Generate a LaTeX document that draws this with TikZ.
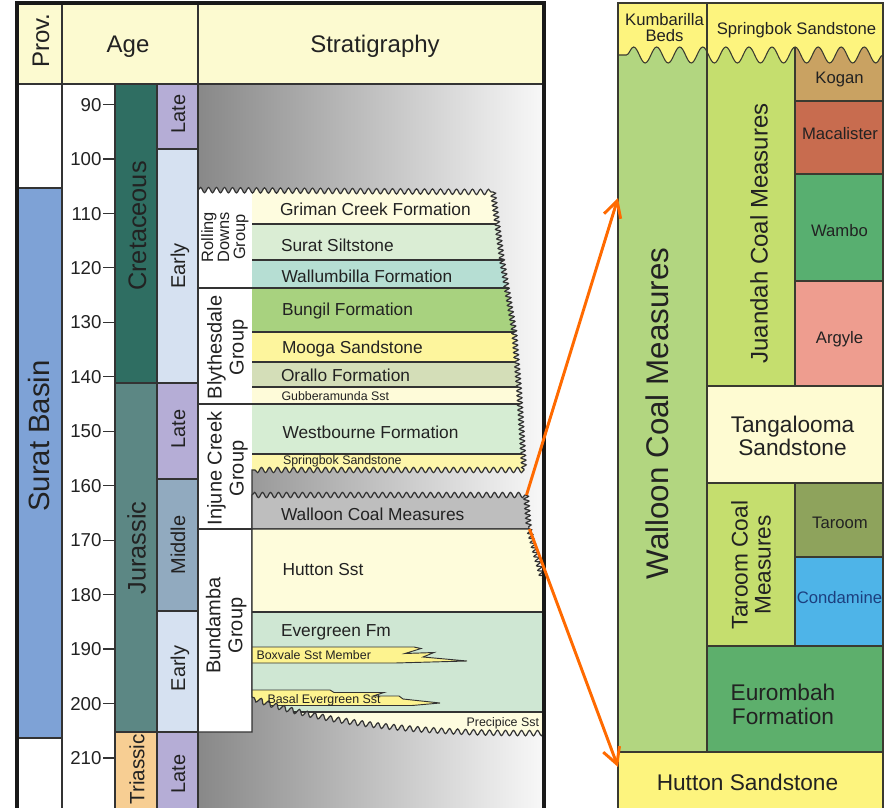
\documentclass[tikz,border=0pt]{standalone}
\usepackage{fontspec}
\setmainfont{Liberation Sans}
\usetikzlibrary{decorations.pathmorphing,arrows.meta}
\definecolor{hdr}{HTML}{FCFAD0}
\definecolor{prov}{HTML}{7EA2D6}
\definecolor{cret}{HTML}{2F6E62}
\definecolor{jura}{HTML}{5C8784}
\definecolor{tria}{HTML}{F7CE93}
\definecolor{late}{HTML}{B5ADD6}
\definecolor{early}{HTML}{D6E1F1}
\definecolor{midd}{HTML}{91AABF}
\definecolor{shl}{HTML}{888888}
\definecolor{shr}{HTML}{F8F8F8}
\definecolor{cGriman}{HTML}{FEFCDF}
\definecolor{cSurat}{HTML}{DAEDD4}
\definecolor{cWallum}{HTML}{B6DED3}
\definecolor{cBungil}{HTML}{A8D27F}
\definecolor{cMooga}{HTML}{FDF59D}
\definecolor{cOrallo}{HTML}{D4DEB8}
\definecolor{cGubb}{HTML}{FEFBD9}
\definecolor{cWestb}{HTML}{D6EDD3}
\definecolor{cSpring}{HTML}{FDF6AA}
\definecolor{cWalloon}{HTML}{BEBEBE}
\definecolor{cHutton}{HTML}{FEFCDB}
\definecolor{cEver}{HTML}{CFE7D3}
\definecolor{cBox}{HTML}{FDF38F}
\definecolor{cPrec}{HTML}{FEFCDF}
\definecolor{rYel}{HTML}{FDF47E}
\definecolor{rWall}{HTML}{B2D680}
\definecolor{rJuan}{HTML}{C5DE6E}
\definecolor{rKogan}{HTML}{C9A262}
\definecolor{rMac}{HTML}{C86C4F}
\definecolor{rWambo}{HTML}{58AF70}
\definecolor{rArg}{HTML}{EE9D8F}
\definecolor{rTang}{HTML}{FEFBD2}
\definecolor{rTaroom}{HTML}{8EA35C}
\definecolor{rCond}{HTML}{4EB4E8}
\definecolor{rEur}{HTML}{5DAF6C}
\definecolor{txt}{HTML}{222222}
\definecolor{ln}{HTML}{333333}
\definecolor{lnr}{HTML}{3A3A30}
\definecolor{arr}{HTML}{FF6A00}
\definecolor{condtxt}{HTML}{1C3F7F}
\newcommand\upperblock{(198,190) decorate[wvd]{-- (493,192)} decorate[wrd]{-- (502,260) -- (514,330) -- (519,390) -- (524,470)} decorate[wvd]{-- (252,470)} -- (252,732) -- (198,732) -- cycle}
\newcommand\walloonblock{(252,495) decorate[wvd]{-- (526,495)} decorate[wrd]{-- (529,529)} -- (252,529) -- cycle}
\newcommand\lowerblock{(252,529) -- (529,529) decorate[wrd]{-- (536,555) -- (543,580)} -- (544,580) -- (544,733) decorate[wvd]{.. controls (430,734) and (320,724) .. (252,697)} -- cycle}
\newcommand\rhead{(618,3) -- (883,3) -- (883,55) decorate[bigwave]{-- (618,55)} -- cycle}
\begin{document}
\begin{tikzpicture}[x=0.75pt,y=-0.75pt,
 lbl/.style={text=txt,inner sep=0pt,outer sep=0pt},
 fH/.style={font=\fontsize{18}{20}\selectfont,text height=12.9pt,text depth=0pt},
 fNum/.style={font=\fontsize{14}{16}\selectfont,text height=10pt,text depth=0pt},
 fPer/.style={font=\fontsize{19}{21}\selectfont,text height=13.6pt,text depth=0pt},
 fTri/.style={font=\fontsize{15.5}{17}\selectfont,text height=11.1pt,text depth=0pt},
 fProv/.style={font=\fontsize{22}{24}\selectfont,text height=15.8pt,text depth=0pt},
 fEp/.style={font=\fontsize{15}{17}\selectfont,text height=10.7pt,text depth=0pt},
 fGrp/.style={font=\fontsize{15}{16.5}\selectfont,align=center},
 fRoll/.style={font=\fontsize{12.3}{12}\selectfont,align=center},
 fFm/.style={font=\fontsize{13}{15}\selectfont,text height=9.3pt,text depth=0pt},
 fSm/.style={font=\fontsize{9.3}{11}\selectfont,text height=6.7pt,text depth=0pt},
 fR/.style={font=\fontsize{12.5}{14}\selectfont,text height=8.95pt,text depth=0pt},
 fRtwo/.style={font=\fontsize{12.5}{12.4}\selectfont,align=center},
 fRM/.style={font=\fontsize{17}{17.3}\selectfont,align=center},
 fRE/.style={font=\fontsize{17}{18}\selectfont,align=center},
 fRJ/.style={font=\fontsize{18}{20}\selectfont,text height=12.9pt,text depth=0pt},
 fRB/.style={font=\fontsize{23.5}{26}\selectfont,text height=16.8pt,text depth=0pt},
 lnA/.style={draw=ln,line width=0.9pt},
 lnR/.style={draw=lnr,line width=0.8pt},
 frameline/.style={draw=black!90,line width=2.4pt},
 wvd/.style={decoration={snake,segment length=6pt,amplitude=2pt}},
 wrd/.style={decoration={snake,segment length=3.6pt,amplitude=1.8pt}},
 bigwave/.style={decoration={snake,segment length=17.3pt,amplitude=6pt}},
 arrline/.style={draw=arr,line width=2.2pt,-{Straight Barb[length=12pt,width=13pt]}}
]
\useasboundingbox (0,0) rectangle (889,807);
\clip (0,0) rectangle (889,807);
% ---------------- left panel ----------------
\fill[hdr] (17,3) rectangle (544,84);
\fill[white] (17,84) rectangle (115,810);
\fill[prov] (17,188) rectangle (62,738);
\draw[lnA] (17,188) -- (62,188) (17,738) -- (62,738);
\fill[cret] (115,84) rectangle (157,383);
\fill[jura] (115,383) rectangle (157,732);
\fill[tria] (115,732) rectangle (157,810);
\fill[late] (157,84) rectangle (198,149);
\fill[early] (157,149) rectangle (198,383);
\fill[late] (157,383) rectangle (198,479);
\fill[midd] (157,479) rectangle (198,611);
\fill[early] (157,611) rectangle (198,732);
\fill[late] (157,732) rectangle (198,810);
\draw[lnA] (115,383) -- (198,383) (115,732) -- (198,732) (157,149) -- (198,149)
  (157,479) -- (198,479) (157,611) -- (198,611);
\shade[left color=shl,right color=shr] (198,84) rectangle (544,810);
% upper block
\begin{scope}
\clip \upperblock;
\fill[white] (198,150) rectangle (252,740);
\fill[cGriman] (252,150) rectangle (600,224);
\fill[cSurat] (252,224) rectangle (600,260);
\fill[cWallum] (252,260) rectangle (600,288);
\fill[cBungil] (252,288) rectangle (600,332);
\fill[cMooga] (252,332) rectangle (600,362);
\fill[cOrallo] (252,362) rectangle (600,387);
\fill[cGubb] (252,387) rectangle (600,404);
\fill[cWestb] (252,404) rectangle (600,454);
\fill[cSpring] (252,454) rectangle (600,480);
\draw[lnA] (252,224) -- (600,224) (252,260) -- (600,260) (198,288) -- (600,288)
  (252,332) -- (600,332) (252,362) -- (600,362) (252,387) -- (600,387)
  (198,404) -- (600,404) (252,454) -- (600,454) (198,529) -- (252,529);
\end{scope}
\draw[lnA] \upperblock;
% walloon block
\fill[cWalloon] \walloonblock;
\draw[lnA] \walloonblock;
% lower block
\begin{scope}
\clip \lowerblock;
\fill[cHutton] (252,520) rectangle (600,612);
\fill[cEver] (252,612) rectangle (600,712);
\fill[cPrec] (252,712) rectangle (600,760);
\draw[lnA] (252,612) -- (600,612) (252,712) -- (600,712);
\filldraw[cBox,draw=ln,line width=0.7pt] (250,647) -- (414,647) -- (421,648.5) -- (405,653.5)
  -- (434,652.5) -- (423,657) -- (467,661) -- (395,663) -- (250,663) -- cycle;
\filldraw[cBox,draw=ln,line width=0.7pt] (250,690) -- (330,690) -- (334,692.5) -- (384,692.5)
  -- (373,696) -- (399,696) -- (403,699) -- (440,703) -- (412,705.5) -- (250,705.5) -- cycle;
\end{scope}
\draw[lnA] \lowerblock;
% grid lines
\draw[lnA] (17,84) -- (544,84);
\draw[lnA] (62,3) -- (62,810) (198,3) -- (198,810) (115,84) -- (115,810) (157,84) -- (157,810);
\foreach \a in {90,100,...,210} {
  \pgfmathsetmacro\yy{104.5+(\a-90)*5.445}
  \draw[lnA] (103,\yy) -- (115,\yy);
  \node[lbl,fNum,anchor=east] (age\a) at (101.5,\yy) {\a};
}
\draw[frameline] (17,815) -- (17,3) -- (544,3) -- (544,815);
% left texts
\node[lbl,fH,rotate=90] (tProv) at (40.5,40.5) {Prov.};
\node[lbl,fH] (tAge) at (128,43.5) {Age};
\node[lbl,fH] (tStrat) at (375,44) {Stratigraphy};
\node[lbl,fProv,rotate=90] (tSurat) at (38.5,436) {Surat Basin};
\node[lbl,fPer,rotate=90] (tCret) at (137,226) {Cretaceous};
\node[lbl,fPer,rotate=90] (tJur) at (136.5,548) {Jurassic};
\node[lbl,fTri,rotate=90] (tTri) at (137,769.5) {Triassic};
\node[lbl,fEp,rotate=90] (tLate1) at (178,114) {Late};
\node[lbl,fEp,rotate=90] (tEarly1) at (178,266) {Early};
\node[lbl,fEp,rotate=90] (tLate2) at (178,429) {Late};
\node[lbl,fEp,rotate=90] (tMid) at (178,545) {Middle};
\node[lbl,fEp,rotate=90] (tEarly2) at (178,668.5) {Early};
\node[lbl,fEp,rotate=90] (tLate3) at (178,774) {Late};
\node[lbl,fRoll,rotate=90] (gRoll) at (225,237) {Rolling\\Downs\\Group};
\node[lbl,fGrp,rotate=90] (gBly) at (227.5,347.5) {Blythesdale\\Group};
\node[lbl,fGrp,rotate=90] (gInj) at (227.5,468.5) {Injune Creek\\Group};
\node[lbl,fGrp,rotate=90] (gBun) at (226.3,625.5) {Bundamba\\Group};
\node[lbl,fFm,anchor=west] (fGriman) at (280,209.5) {Griman Creek Formation};
\node[lbl,fFm,anchor=west] (fSurat) at (281,245) {Surat Siltstone};
\node[lbl,fFm,anchor=west] (fWallum) at (281.5,276) {Wallumbilla Formation};
\node[lbl,fFm,anchor=west] (fBungil) at (282,309.5) {Bungil Formation};
\node[lbl,fFm,anchor=west] (fMooga) at (282,347) {Mooga Sandstone};
\node[lbl,fFm,anchor=west] (fOrallo) at (281,375) {Orallo Formation};
\node[lbl,fSm,anchor=west] (fGubb) at (281.5,396) {Gubberamunda Sst};
\node[lbl,fFm,anchor=west] (fWestb) at (282.5,432.5) {Westbourne Formation};
\node[lbl,fSm,anchor=west] (fSpring) at (283,460) {Springbok Sandstone};
\node[lbl,fFm,anchor=west] (fWalloon) at (281,514) {Walloon Coal Measures};
\node[lbl,fFm,anchor=west] (fHutton) at (282.5,569.5) {Hutton Sst};
\node[lbl,fFm,anchor=west] (fEver) at (281,630) {Evergreen Fm};
\node[lbl,fSm,anchor=west] (fBox) at (256.5,655.5) {Boxvale Sst Member};
\node[lbl,fSm,anchor=west] (fBasal) at (267.5,699) {Basal Evergreen Sst};
\node[lbl,fSm,anchor=east] (fPrec) at (539,722.5) {Precipice Sst};
% ---------------- right panel ----------------
\fill[rWall] (618,40) rectangle (707,752);
\fill[rJuan] (707,40) rectangle (795,386);
\fill[rKogan] (795,40) rectangle (883,101);
\fill[rMac] (795,101) rectangle (883,174);
\fill[rWambo] (795,174) rectangle (883,281);
\fill[rArg] (795,281) rectangle (883,386);
\fill[rTang] (707,386) rectangle (883,483);
\fill[rJuan] (707,483) rectangle (795,646);
\fill[rTaroom] (795,483) rectangle (883,557);
\fill[rCond] (795,557) rectangle (883,646);
\fill[rEur] (707,646) rectangle (883,752);
\fill[rYel] (618,752) rectangle (883,815);
\draw[lnR] (795,45) -- (795,386) (795,483) -- (795,646);
\draw[lnR] (795,101) -- (883,101) (795,174) -- (883,174) (795,281) -- (883,281)
  (707,386) -- (883,386) (707,483) -- (883,483) (795,557) -- (883,557)
  (707,646) -- (883,646) (618,752) -- (883,752);
\fill[rYel] \rhead;
\draw[lnR] (883,55) decorate[bigwave]{-- (618,55)};
\draw[lnR] (707,3) -- (707,752);
\draw[lnR] (618,815) -- (618,3) -- (883,3) -- (883,815);
% right texts
\node[lbl,fRtwo] (rKumb) at (664.5,27.75) {Kumbarilla\\Beds};
\node[lbl,fR] (rSpring) at (796.5,29) {Springbok Sandstone};
\node[lbl,fR] (rKogan) at (839.5,77.5) {Kogan};
\node[lbl,fR] (rMac) at (840,134) {Macalister};
\node[lbl,fR] (rWambo) at (839.5,231) {Wambo};
\node[lbl,fR] (rArg) at (839.5,337.5) {Argyle};
\node[lbl,fRM] (rTang) at (792.5,435.5) {Tangalooma\\Sandstone};
\node[lbl,fR] (rTaroom) at (840,522.5) {Taroom};
\node[lbl,fR,text=condtxt] (rCond) at (839.5,598) {Condamine};
\node[lbl,fRE] (rEur) at (783,704) {Eurombah\\Formation};
\node[lbl,fRM] (rHutton) at (747.5,782.5) {Hutton Sandstone};
\node[lbl,fRB,rotate=90] (rWall) at (657,413.5) {Walloon Coal Measures};
\node[lbl,fRJ,rotate=90] (rJuan) at (759,233.5) {Juandah Coal Measures};
\node[lbl,fRM,rotate=90] (rTarCM) at (751,565) {Taroom Coal\\Measures};
% arrows
\coordinate (a1s) at (526.5,495);
\coordinate (a1e) at (618,198);
\coordinate (a2s) at (529.5,529);
\coordinate (a2e) at (618,767);
\draw[arrline] (a1s) -- (a1e);
\draw[arrline] (a2s) -- (a2e);
\end{tikzpicture}
\end{document}
